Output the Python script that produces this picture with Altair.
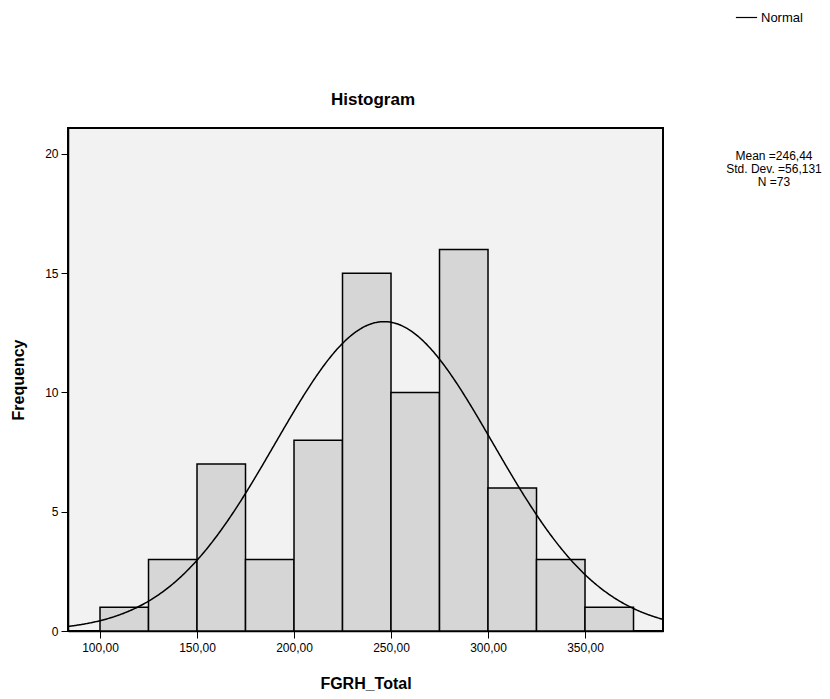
import altair as alt
import pandas as pd

# Histogram bins (FGRH_Total) and frequencies
bin_start = [100, 125, 150, 175, 200, 225, 250, 275, 300, 325, 350]
bin_end = [125, 150, 175, 200, 225, 250, 275, 300, 325, 350, 375]
frequency = [1, 3, 7, 3, 8, 15, 10, 16, 6, 3, 1]

# Summary statistics shown on the chart
mean_val = 246.44
sd_val = 56.131
n_val = 73
bin_width = 25
stats_lines = ["Mean =246,44", "Std. Dev. =56,131", "N =73"]

x_ticks = [100, 150, 200, 250, 300, 350]
y_ticks = [0, 5, 10, 15, 20]
x_domain = [83.5, 390.2]
y_domain = [0, 21.09]

bars_df = pd.DataFrame({"start": bin_start, "end": bin_end, "freq": frequency})

FONT = "Liberation Sans"

x_scale = alt.Scale(domain=x_domain, nice=False, zero=False)
y_scale = alt.Scale(domain=y_domain, nice=False)

x_axis = alt.Axis(
    values=x_ticks,
    labelExpr="replace(format(datum.value, '.2f'), '.', ',')",
    title="FGRH_Total",
    titleFontSize=16, titleFontWeight="bold", titlePadding=22,
    labelFontSize=12, labelPadding=4,
    tickSize=7, tickColor="black", domainColor="black", domainWidth=1.5,
    grid=False, labelColor="black", titleColor="black",
)
y_axis = alt.Axis(
    values=y_ticks,
    title="Frequency",
    titleFontSize=16, titleFontWeight="bold", titlePadding=18,
    labelFontSize=12, labelPadding=3,
    tickSize=7, tickColor="black", domainColor="black", domainWidth=1.5,
    grid=False, labelColor="black", titleColor="black",
)

bars = alt.Chart(bars_df).mark_bar(
    color="#d6d6d6", stroke="black", strokeWidth=1.5
).encode(
    x=alt.X("start:Q", scale=x_scale, axis=x_axis),
    x2="end:Q",
    y=alt.Y("freq:Q", scale=y_scale, axis=y_axis),
    y2=alt.datum(0),
)

curve = alt.Chart(alt.sequence(x_domain[0], x_domain[1], 0.5, as_="x")).transform_calculate(
    y=f"{n_val}*{bin_width}/({sd_val}*sqrt(2*PI))*exp(-0.5*pow((datum.x-{mean_val})/{sd_val},2))",
    series="'Normal'",
).mark_line(strokeWidth=1.5, clip=True).encode(
    x=alt.X("x:Q", scale=x_scale),
    y=alt.Y("y:Q", scale=y_scale),
    color=alt.Color(
        "series:N",
        scale=alt.Scale(domain=["Normal"], range=["black"]),
        legend=alt.Legend(
            title=None, orient="none", legendX=667, legendY=-122,
            symbolType="stroke", symbolStrokeWidth=1.2, symbolSize=450,
            labelFontSize=13, labelFont=FONT, labelColor="black", labelOffset=3,
        ),
    ),
)

stats = alt.Chart(pd.DataFrame({"t": [stats_lines]})).mark_text(
    font=FONT, fontSize=12, align="center", baseline="top", lineHeight=13, color="black"
).encode(
    text="t",
    x=alt.value(706),
    y=alt.value(23),
)

title = alt.Chart(pd.DataFrame({"t": ["Histogram"]})).mark_text(
    font=FONT, fontSize=17, fontWeight="bold", align="center", baseline="middle", color="black"
).encode(
    text="t:N",
    x=alt.value(305),
    y=alt.value(-28),
)

chart = alt.layer(bars, curve, stats, title).properties(
    width=595,
    height=503,
    autosize=alt.AutoSizeParams(type="none"),
    padding={"left": 68, "top": 128, "right": 167, "bottom": 68},
    background="white",
).configure_view(
    fill="#f2f2f2", stroke="black", strokeWidth=2
).configure_axis(
    labelFont=FONT, titleFont=FONT
)

chart.save("out.html", embed_options={"renderer": "svg", "actions": False})
